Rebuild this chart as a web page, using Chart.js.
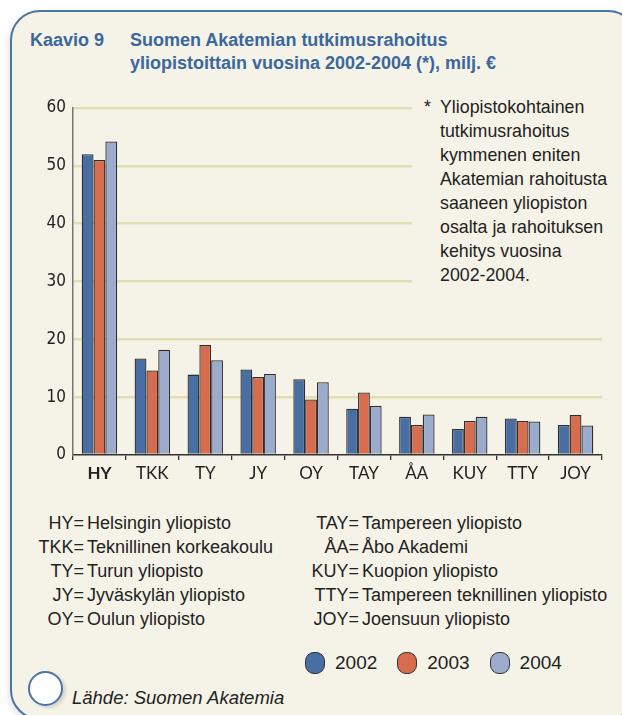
<!DOCTYPE html>
<html lang="fi">
<head>
<meta charset="UTF-8" />
<title>Kaavio 9</title>
<style>
  body {
    margin: 0;
    background: #fff;
    font-family: 'Liberation Sans', Arial, sans-serif;
    color: #222;
    width: 622px;
    height: 715px;
    overflow: hidden;
    position: relative;
  }
  #frame {
    position: absolute;
    left: 10px;
    top: 10px;
    width: 624px;
    height: 706px;
    background: #f5f3e7;
    border: 2px solid #4a74a8;
    border-radius: 30px;
    box-shadow: -3px 3px 4px rgba(0,0,0,0.08);
  }
  .title {
    position: absolute;
    color: #3a679c;
    font-weight: bold;
    font-size: 18px;
    line-height: 23px;
  }
  #chartBox {
    position: absolute;
    left: 0;
    top: 90px;
    width: 622px;
    height: 410px;
  }
  #note {
    position: absolute;
    left: 412px;
    top: 94px;
    width: 200px;
    height: 198px;
    background: #f5f3e7;
    font-size: 17.8px;
    line-height: 24px;
    color: #222;
  }
  #note .star { position: absolute; left: 12px; top: 1px; }
  #note .txt { position: absolute; left: 28px; top: 1px; }
  .abbr {
    position: absolute;
    font-size: 18px;
    line-height: 24px;
    color: #222;
  }
  .abbr div { position: relative; height: 24px; white-space: nowrap; }
  .abbr .k { position: absolute; right: 100%; margin-right: 3px; }
  #legend {
    position: absolute;
    top: 652px;
    left: 305px;
    display: flex;
    font-size: 19px;
    color: #222;
  }
  #legend .item { display: flex; align-items: center; margin-right: 20px; }
  #legend .dot {
    width: 18px; height: 20px;
    border: 1.5px solid #333;
    border-radius: 9px;
    margin-right: 10px;
  }
  #ring {
    position: absolute;
    left: 28px; top: 671px;
    width: 31px; height: 31px;
    border-radius: 50%;
    border: 2px solid #4a74a8;
    background: #fff;
    box-shadow: 3px 2px 3px rgba(0,0,0,0.12);
  }
  #source {
    position: absolute;
    left: 72px; top: 687px;
    font-style: italic;
    font-size: 18.5px;
    color: #222;
  }
</style>
<script src="https://cdn.jsdelivr.net/npm/chart.js"></script>
</head>
<body>

<div id="frame"></div>
<div class="title" style="left:30px; top:29px;">Kaavio 9</div>
<div class="title" style="left:130px; top:29px;">Suomen Akatemian tutkimusrahoitus<br>yliopistoittain vuosina 2002-2004 (*), milj. €</div>

<div id="chartBox"><canvas id="chart"></canvas></div>

<div id="note">
  <span class="star">*</span>
  <div class="txt">Yliopistokohtainen<br>tutkimusrahoitus<br>kymmenen eniten<br>Akatemian rahoitusta<br>saaneen yliopiston<br>osalta ja rahoituksen<br>kehitys vuosina<br>2002-2004.</div>
</div>

<div class="abbr" id="abbr1" style="left:87px; top:511px;"></div>
<div class="abbr" id="abbr2" style="left:362px; top:511px;"></div>

<div id="legend"></div>

<div id="ring"></div>
<div id="source">Lähde: Suomen Akatemia</div>

<script>
  const universities = ['HY', 'TKK', 'TY', 'JY', 'OY', 'TAY', 'ÅA', 'KUY', 'TTY', 'JOY'];
  const fullNames = [
    'Helsingin yliopisto', 'Teknillinen korkeakoulu', 'Turun yliopisto',
    'Jyväskylän yliopisto', 'Oulun yliopisto', 'Tampereen yliopisto',
    'Åbo Akademi', 'Kuopion yliopisto', 'Tampereen teknillinen yliopisto',
    'Joensuun yliopisto'
  ];
  const years = ['2002', '2003', '2004'];
  const funding2002 = [52.0, 16.7, 13.9, 14.8, 13.1, 8.0, 6.6, 4.5, 6.3, 5.2];
  const funding2003 = [51.0, 14.6, 19.0, 13.5, 9.6, 10.8, 5.2, 5.9, 5.9, 6.9];
  const funding2004 = [54.2, 18.2, 16.4, 14.0, 12.6, 8.5, 7.0, 6.6, 5.8, 5.1];
  const yTicks = [0, 10, 20, 30, 40, 50, 60];
  const colors = ['#486ea4', '#d86c4f', '#9cabcc'];

  // abbreviation list, two columns of five
  universities.forEach((u, i) => {
    const col = document.getElementById(i < 5 ? 'abbr1' : 'abbr2');
    const row = document.createElement('div');
    row.innerHTML = '<span class="k">' + u + '=</span>' + fullNames[i];
    col.appendChild(row);
  });

  // year legend
  const legend = document.getElementById('legend');
  years.forEach((y, i) => {
    const item = document.createElement('div');
    item.className = 'item';
    item.innerHTML = '<span class="dot" style="background:' + colors[i] + '"></span>' + y;
    legend.appendChild(item);
  });

  const ctx = document.getElementById('chart').getContext('2d');
  const series = [funding2002, funding2003, funding2004];

  new Chart(ctx, {
    type: 'bar',
    data: {
      labels: universities,
      datasets: series.map((data, i) => ({
        label: years[i],
        data,
        backgroundColor: colors[i],
        borderColor: '#2e2e2e',
        borderWidth: 1.3,
        borderSkipped: 'bottom',
        barPercentage: 1.0,
        categoryPercentage: 0.67
      }))
    },
    options: {
      responsive: true,
      maintainAspectRatio: false,
      animation: false,
      layout: { padding: { top: 18, right: 20, bottom: 15, left: 0 } },
      plugins: {
        legend: { display: false },
        tooltip: { enabled: false }
      },
      scales: {
        x: {
          afterFit: s => { s.height = 30; },
          grid: {
            offset: true,
            drawOnChartArea: false,
            color: '#333',
            lineWidth: 1.3,
            tickLength: 5
          },
          border: { color: '#333', width: 1.5 },
          ticks: {
            color: '#222',
            padding: 3,
            font: c => ({
              family: 'Lato, sans-serif',
              size: 17,
              weight: c.index === 0 ? 'bold' : 'normal'
            })
          }
        },
        y: {
          min: 0,
          max: 60,
          afterFit: s => { s.width = 73; },
          afterBuildTicks: s => { s.ticks = yTicks.map(v => ({ value: v })); },
          grid: {
            color: c => c.tick.value === 0 ? 'rgba(0,0,0,0)' : '#e3ddb3',
            lineWidth: 2.5,
            drawTicks: false
          },
          border: { color: '#777', width: 1.5 },
          ticks: {
            color: '#222',
            padding: 7,
            font: { family: "'Liberation Sans Narrow', 'DejaVu Sans Condensed', sans-serif", size: 17 }
          }
        }
      }
    }
  });
</script>

</body>
</html>
